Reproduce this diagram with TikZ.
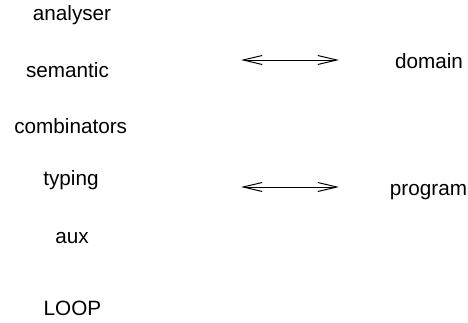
\documentclass[tikz,border=0pt]{standalone}
\usepackage{fontspec}
\setmainfont{Liberation Sans}
\usetikzlibrary{arrows.meta}
\begin{document}
\begin{tikzpicture}[x=1pt,y=-1pt,
  lbl/.style={anchor=base,inner sep=0pt,font=\fontsize{20.7}{24}\selectfont},
  dbl/.style={line width=1pt,{Straight Barb[length=19pt,width=9pt,line width=1pt]}-{Straight Barb[length=19pt,width=9pt,line width=1pt]}}]
\useasboundingbox (0,0) rectangle (468,322);
\node[lbl] (analyser) at (72,20) {analyser};
\node[lbl] (semantic) at (67.5,77) {semantic};
\node[lbl] (combinators) at (70.7,133) {combinators};
\node[lbl] (typing) at (71,185) {typing};
\node[lbl] (aux) at (72,243) {aux};
\node[lbl] (loop) at (72.5,315) {LOOP};
\node[lbl] (domain) at (429,68) {domain};
\node[lbl] (program) at (428.5,195) {program};
\coordinate (a1) at (241,60);
\coordinate (b1) at (339,60);
\coordinate (a2) at (241,187);
\coordinate (b2) at (339,187);
\draw[dbl] (a1) -- (b1);
\draw[dbl] (a2) -- (b2);
\end{tikzpicture}
\end{document}
